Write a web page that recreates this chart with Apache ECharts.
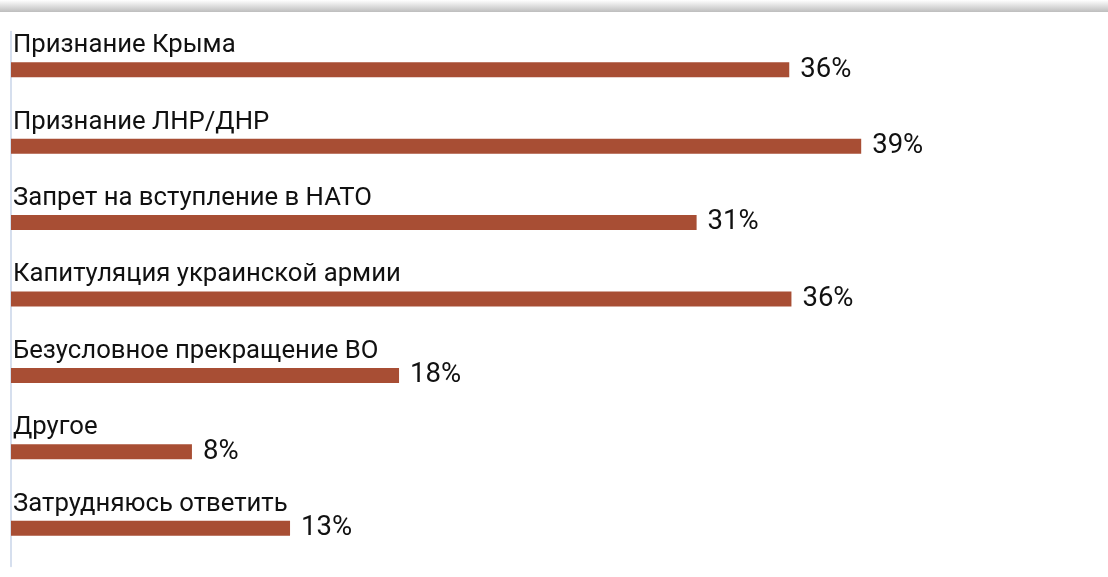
<!DOCTYPE html>
<html>
<head>
<meta charset="utf-8">
<script src="https://cdn.jsdelivr.net/npm/echarts@6/dist/echarts.min.js"></script>
<style>
html,body{margin:0;padding:0;background:#fff;}
#chart{width:1108px;height:577px;}
</style>
</head>
<body>
<div id="chart"></div>
<script>
const categories = [
  'Признание Крыма',
  'Признание ЛНР/ДНР',
  'Запрет на вступление в НАТО',
  'Капитуляция украинской армии',
  'Безусловное прекращение ВО',
  'Другое',
  'Затрудняюсь ответить'
];
const values = [35.7, 39.0, 31.45, 35.8, 17.8, 8.3, 12.8];

const chart = echarts.init(document.getElementById('chart'));
const barColor = '#a84e34';
chart.setOption({
  animation: false,
  textStyle: { fontFamily: 'Roboto' },
  graphic: [{
    type: 'rect',
    left: 0, top: 0,
    shape: { width: 1108, height: 12 },
    style: {
      fill: new echarts.graphic.LinearGradient(0, 0, 0, 1, [
        { offset: 0, color: '#ffffff' },
        { offset: 1, color: '#bdbdbd' }
      ])
    },
    silent: true
  }],
  grid: { left: 11, top: 31.5, width: 872, height: 535, containLabel: false },
  xAxis: {
    type: 'value', min: 0, max: 40,
    show: false
  },
  yAxis: {
    type: 'category',
    data: categories,
    inverse: true,
    axisLine: { show: true, lineStyle: { color: '#c9d5e8', width: 1.5 } },
    axisTick: { show: false },
    axisLabel: { show: false }
  },
  series: [
    {
      type: 'bar',
      data: values,
      barWidth: 15,
      itemStyle: { color: barColor },
      label: {
        show: true,
        position: [2, -4],
        verticalAlign: 'bottom',
        align: 'left',
        formatter: '{b}',
        fontSize: 25.7,
        lineHeight: 25,
        color: '#111111',
        fontFamily: 'Roboto'
      },
      z: 2
    },
    {
      type: 'bar',
      data: values,
      barWidth: 15,
      barGap: '-100%',
      itemStyle: { color: 'rgba(0,0,0,0)' },
      label: {
        show: true,
        position: 'right',
        distance: 11,
        formatter: p => Math.round(p.value) + '%',
        fontSize: 27.5,
        color: '#111111',
        fontFamily: 'Roboto'
      },
      z: 3
    }
  ]
});
</script>
</body>
</html>
